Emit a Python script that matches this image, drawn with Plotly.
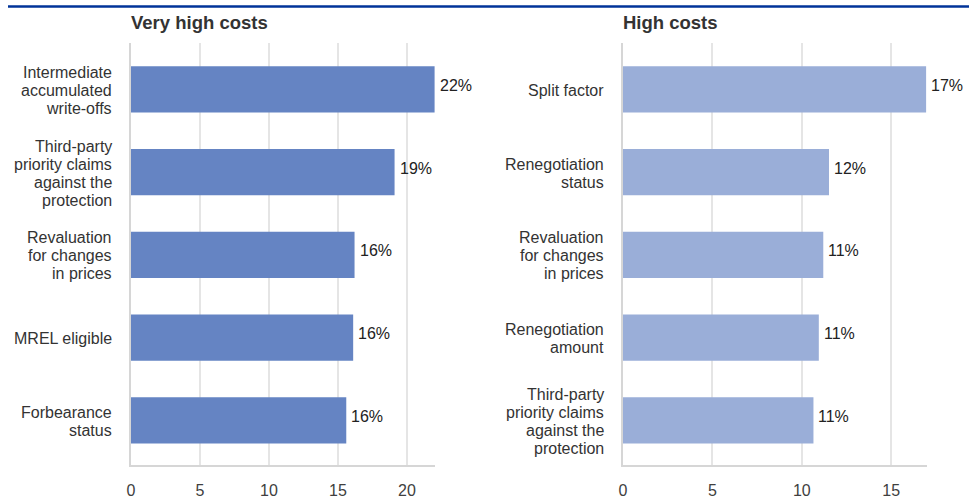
import plotly.graph_objects as go
from plotly.subplots import make_subplots

# Share of respondents (%) reporting costs per data attribute
very_high_labels = [
    "Intermediate<br>accumulated<br>write-offs",
    "Third-party<br>priority claims<br>against the<br>protection",
    "Revaluation<br>for changes<br>in prices",
    "MREL eligible",
    "Forbearance<br>status",
]
very_high_values = [22.0, 19.1, 16.2, 16.1, 15.6]

high_labels = [
    "Split factor",
    "Renegotiation<br>status",
    "Revaluation<br>for changes<br>in prices",
    "Renegotiation<br>amount",
    "Third-party<br>priority claims<br>against the<br>protection",
]
high_values = [16.95, 11.52, 11.2, 10.95, 10.65]

panel_titles = ["Very high costs", "High costs"]
x_ticks_left = [0, 5, 10, 15, 20]
x_ticks_right = [0, 5, 10, 15]

W, H = 978, 503
FONT = "Liberation Sans, Arial, sans-serif"
DARK_BLUE = "#003399"
COLOR_VH = "#6584C3"
COLOR_H = "#9AAED8"
GRID = "#e5e5e5"
AXIS = "#d6d6d6"
LINE_STEP = 18  # px between lines of a category label

fig = make_subplots(rows=1, cols=2)
annotations = []

panels = [
    (very_high_labels, very_high_values, COLOR_VH),
    (high_labels, high_values, COLOR_H),
]
for col, (labels, values, color) in enumerate(panels, start=1):
    xref = "x" if col == 1 else "x2"
    yref = "y" if col == 1 else "y2"
    fig.add_trace(
        go.Bar(
            y=labels,
            x=values,
            orientation="h",
            width=0.56,
            marker=dict(color=color, line=dict(width=0)),
            hoverinfo="skip",
        ),
        row=1, col=col,
    )
    for cat, val in zip(labels, values):
        # value label at the end of each bar
        annotations.append(dict(
            text=f"{val:.0f}%", xref=xref, yref=yref, x=val, y=cat,
            xanchor="left", yanchor="middle", xshift=3, yshift=4,
            showarrow=False,
            font=dict(family=FONT, size=16, color="#222222"),
        ))
        # category label, one line at a time, right-aligned left of the axis
        lines = cat.split("<br>")
        n = len(lines)
        for i, line in enumerate(lines):
            annotations.append(dict(
                text=line, xref=f"{xref} domain", yref=yref, x=0, y=cat,
                xanchor="right", yanchor="middle", xshift=-17,
                yshift=((n - 1) / 2 - i) * LINE_STEP - 1,
                showarrow=False,
                font=dict(family=FONT, size=16, color="#333333"),
            ))

# plot area in pixels: x 131-435 / 623-927, y 43-465
y_dom = [1 - 465 / H, 1 - 43 / H]
common_x = dict(
    showgrid=True, gridcolor=GRID, gridwidth=2,
    zeroline=False, showline=True, linecolor=AXIS, linewidth=2,
    ticks="", tickfont=dict(family=FONT, size=16, color="#404040"),
    ticklabelstandoff=10, automargin=False, fixedrange=True,
)
common_y = dict(
    autorange=False, range=[4.54, -0.56],
    showgrid=False, zeroline=False, showline=True, linecolor=AXIS, linewidth=2,
    ticks="", showticklabels=False, automargin=False, fixedrange=True,
    domain=y_dom,
)

fig.update_xaxes(common_x, row=1, col=1, domain=[131 / W, 435 / W],
                 range=[0, 22.03], tickvals=x_ticks_left)
fig.update_xaxes(common_x, row=1, col=2, domain=[623 / W, 927 / W],
                 range=[0, 17.0], tickvals=x_ticks_right)
fig.update_yaxes(common_y, row=1, col=1)
fig.update_yaxes(common_y, row=1, col=2)

for title, x0 in zip(panel_titles, [131 / W, 623 / W]):
    annotations.append(dict(
        text=f"<b>{title}</b>", xref="paper", yref="paper",
        x=x0, y=1 - 22 / H, xanchor="left", yanchor="middle", xshift=-2,
        showarrow=False, font=dict(family=FONT, size=18.5, color="#333333"),
    ))

fig.update_layout(
    width=W, height=H,
    margin=dict(l=0, r=0, t=0, b=0),
    paper_bgcolor="white", plot_bgcolor="white",
    showlegend=False,
    annotations=annotations,
    shapes=[dict(type="line", xref="paper", yref="paper",
                 x0=8 / W, x1=969 / W, y0=1 - 6.5 / H, y1=1 - 6.5 / H,
                 line=dict(color=DARK_BLUE, width=2.5))],
    font=dict(family=FONT),
)

fig.write_html("out.html")
